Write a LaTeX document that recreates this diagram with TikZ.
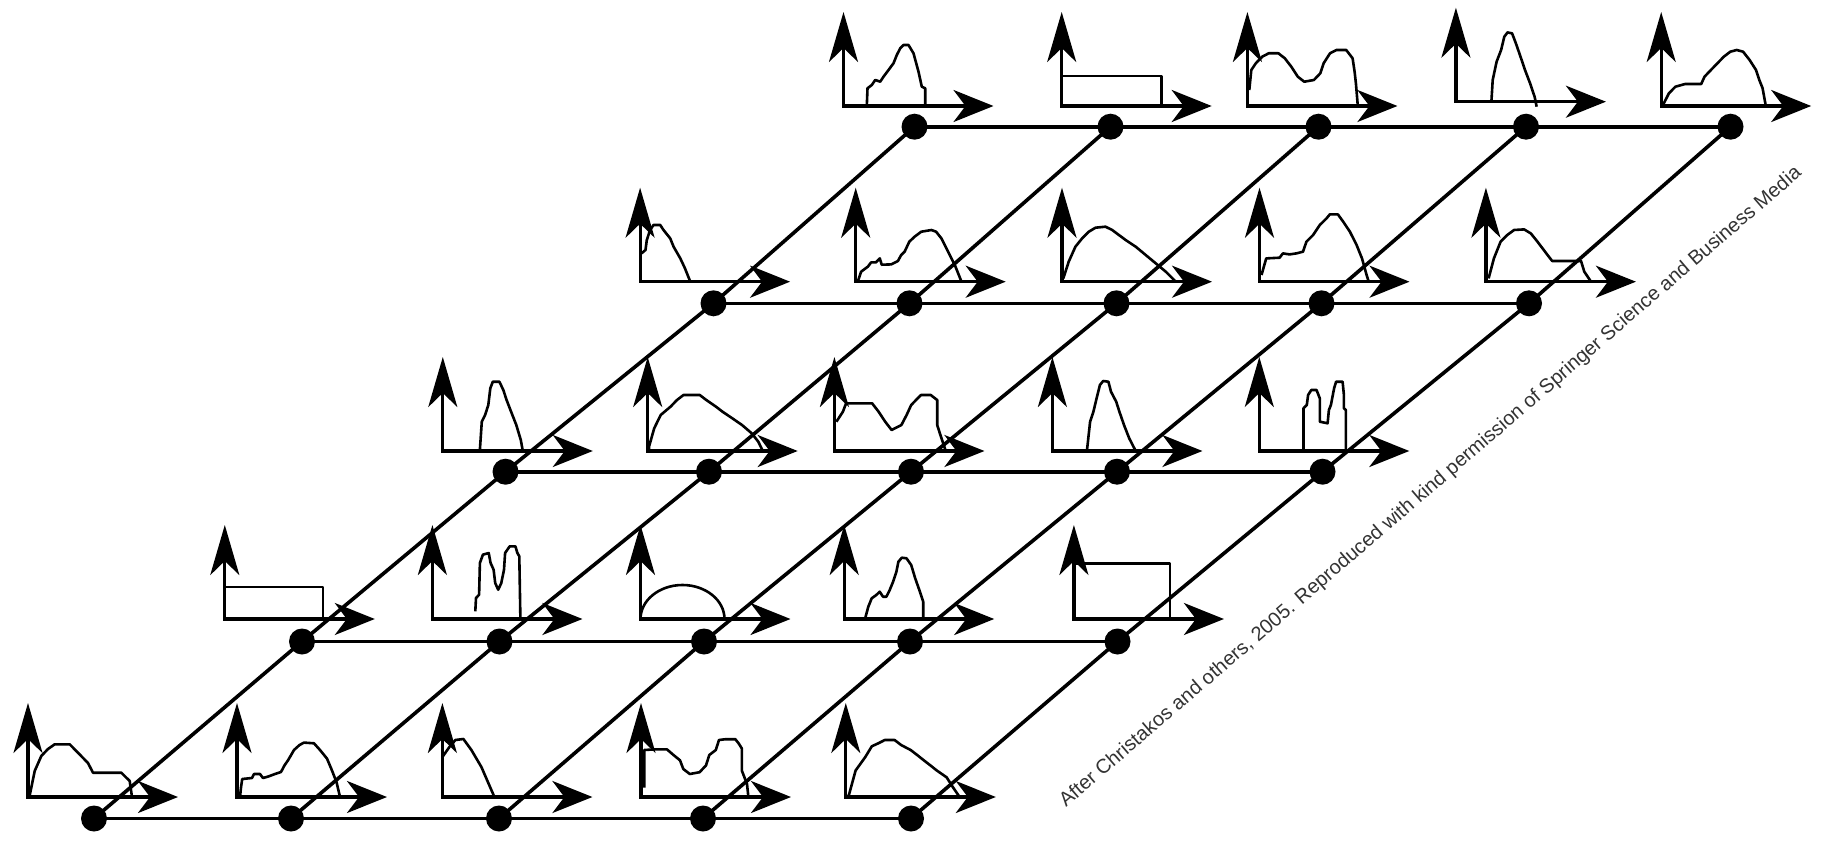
\documentclass[tikz,border=0pt]{standalone}
\usepackage{fontspec}
\setmainfont{Liberation Sans}
\usetikzlibrary{arrows.meta}
\tikzset{
  lattice/.style={line width=3.6pt},
  site/.style={circle, fill=black, inner sep=0pt, minimum size=26pt},
  axes/.style={line width=3.2pt, line join=miter,
    {Stealth[length=50pt,width=29pt,inset=14pt]}-{Stealth[length=40pt,width=32pt,inset=12pt]}},
  density/.style={line width=2.6pt, line join=round},
}
% one small density plot: axis corner at (#1,#2), curve path #3 in local units (y up)
\newcommand{\densityplot}[3]{%
  \begin{scope}[shift={(#1,#2)}, yscale=-1]
    \draw[axes] (0,94) -- (0,0) -- (150,0);
    \draw[density] #3;
  \end{scope}}
\begin{document}
\begin{tikzpicture}[x=1pt,y=-1pt]
\fill[white] (0,0) rectangle (1832,843);
\useasboundingbox (0,0) rectangle (1832,843);

% ---- grid sites ----
\node[site] (n-1-1) at (94,818.5) {};
\node[site] (n-1-2) at (291,818.5) {};
\node[site] (n-1-3) at (499,818.5) {};
\node[site] (n-1-4) at (703,818.5) {};
\node[site] (n-1-5) at (911,818.5) {};
\node[site] (n-2-1) at (302,641.5) {};
\node[site] (n-2-2) at (499.5,641.5) {};
\node[site] (n-2-3) at (704,641.5) {};
\node[site] (n-2-4) at (910,641.5) {};
\node[site] (n-2-5) at (1117.5,641.5) {};
\node[site] (n-3-1) at (505.5,471.7) {};
\node[site] (n-3-2) at (709,471.7) {};
\node[site] (n-3-3) at (911,471.7) {};
\node[site] (n-3-4) at (1117,471.7) {};
\node[site] (n-3-5) at (1322.5,471.7) {};
\node[site] (n-4-1) at (713.5,303.3) {};
\node[site] (n-4-2) at (909.5,303.3) {};
\node[site] (n-4-3) at (1116.5,303.3) {};
\node[site] (n-4-4) at (1321.5,303.3) {};
\node[site] (n-4-5) at (1529,303.3) {};
\node[site] (n-5-1) at (914.5,126.7) {};
\node[site] (n-5-2) at (1110.5,126.7) {};
\node[site] (n-5-3) at (1318.5,126.7) {};
\node[site] (n-5-4) at (1526,126.7) {};
\node[site] (n-5-5) at (1730.5,126.7) {};

\foreach \r in {1,...,5}{
  \draw[lattice] (n-\r-1.center) -- (n-\r-2.center) -- (n-\r-3.center) -- (n-\r-4.center) -- (n-\r-5.center);
  \draw[lattice] (n-1-\r.center) -- (n-2-\r.center) -- (n-3-\r.center) -- (n-4-\r.center) -- (n-5-\r.center);
}

% ---- row 1 ----
\densityplot{28}{797}{plot coordinates {(1.5,0) (2,3) (6.7,26) (13.3,41) (20,48) (26.7,52.7) (41.7,52.7) (48.3,46) (60,34) (65,24.3) (93.3,24.3) (101.7,16) (104,0)}}
\densityplot{237}{797}{plot coordinates {(3,0) (4,9.5) (5.2,18) (15,19) (17,23) (23,23) (26,19) (31,20.4) (38,23) (44,25) (47.5,31.6) (51,36.7) (54,41.8) (57,47) (62.5,52) (67,54.4) (77,53.7) (83,47) (90,38.4) (95,26.5) (99.6,14.6) (103,0)}}
\densityplot{442.4}{797}{plot coordinates {(0,40) (7,50) (13,57) (21,58) (29,47) (39,30) (52,0)}}
\densityplot{641}{797}{plot coordinates {(3.3,9.5) (3.3,47) (13,47.6) (26,47.6) (32.5,42) (39,36.7) (42.3,28) (48.8,23) (58.6,24.8) (65,31.6) (68.3,42) (74.8,47) (78,57) (84.6,57.8) (94.3,57.8) (97.6,53.7) (100.8,48.6) (100.8,26.5) (106,13) (107.4,0)}}
\densityplot{845.8}{797}{plot coordinates {(2,0) (3.3,2.7) (9.8,26.5) (19.5,40) (26,50.7) (32.5,53.7) (39,57) (48.8,57) (55.3,52) (65,46.9) (71.6,41.8) (78,36.7) (84.6,31.6) (91,26.5) (100.8,19.7) (107.3,9.5) (113.8,0)}}

% ---- row 2 ----
\densityplot{224.8}{619}{(0,32) -- (98,32) -- (98,0)}
\densityplot{432.4}{619}{plot coordinates {(42.9,7.7) (43.6,21) (46.7,24.3) (47.5,56) (50.5,64.3) (56.3,66) (58.2,56) (61.2,49.3) (62.8,36) (65.8,29.3) (68.9,36) (71.6,49.3) (72.7,66) (77.3,72.7) (83,72.7) (85,66) (86.9,62.7) (88,0)}}
\densityplot{640.5}{619}{(0,0) arc[start angle=180, end angle=0, x radius=42, y radius=34]}
\densityplot{844.2}{619}{plot coordinates {(20.8,0) (24.1,12.3) (27.5,20.7) (32.1,24) (35.5,27.3) (38.8,22.3) (42.2,22.3) (45.5,29) (48.9,37.3) (52.2,47.3) (54.2,57.3) (57.6,61.3) (62.3,60.7) (67,54) (71,40.7) (75.7,27.3) (79,17.3) (79,0)}}
\densityplot{1073.9}{619}{(0,55.7) -- (96,55.7) -- (96,0)}

% ---- row 3 ----
\densityplot{442.8}{451}{plot coordinates {(37,0) (39,29.3) (42.3,36) (45.5,46) (47.5,62.7) (50,69.3) (56.6,69.3) (60.5,61) (63.8,51) (68.3,39.3) (73.5,26) (78,11) (80,0)}}
\densityplot{647.7}{451}{plot coordinates {(1.3,0) (1.3,4.3) (6.5,22.7) (13,36) (22.8,44.3) (29.3,51) (35.8,56) (52,56) (58.6,51) (68.3,44.3) (74.8,39.3) (84.6,32.7) (94.3,26) (104,17.7) (110.6,9.3) (115.1,0)}}
\densityplot{834.4}{451}{plot coordinates {(2,29.3) (8.5,39.3) (11.7,47.7) (37.7,47.7) (44.2,39.3) (50.8,29.3) (57.2,21) (67,26) (72.2,36) (76.8,46) (83.3,52.7) (86.6,56) (96.3,56) (102.8,51) (102.8,26) (106,16) (111.3,0)}}
\densityplot{1052.4}{451}{plot coordinates {(34.5,0) (37.7,29.3) (41,39.3) (44.2,52.7) (47.5,66) (50.8,70) (56,69.3) (58.6,59.3) (63.8,49.3) (67,39.3) (71.6,26) (76.8,12.7) (83.3,0)}}
\densityplot{1259.3}{451}{plot coordinates {(44.2,0) (44.2,42.7) (47.5,46) (48.8,56) (52,61) (57.2,61) (60.5,52.7) (60.5,29.3) (68.3,27.7) (69.6,41) (71.6,46) (74.8,62.7) (76.8,69.3) (83.3,69.3) (84.6,56) (84.6,42.7) (86.5,41) (86.5,0)}}

% ---- row 4 ----
\densityplot{640.1}{281.7}{plot coordinates {(1.3,28.3) (5.4,31.7) (6.7,41.7) (10,51.7) (13.4,56.7) (20.1,56.7) (23.4,51.7) (30.1,43.3) (33.5,35) (40.2,23.3) (44.9,13.3) (50.2,0)}}
\densityplot{855.7}{281.7}{plot coordinates {(2,0) (5.4,10) (12.1,15) (15.4,19.3) (20.1,19.3) (24.1,23.3) (26,17) (35.5,17.3) (42.2,20.7) (45.5,26.7) (48.9,30) (53.6,40) (58.9,45) (65.6,50) (75.7,51.7) (80.4,50) (85.7,43.3) (92.4,30) (99.1,16.7) (105.8,0)}}
\densityplot{1062}{281.7}{plot coordinates {(1.3,3.3) (6.7,20) (13.4,35) (20.1,43.3) (26.8,50) (33.5,54) (43.5,55) (50.2,51.7) (56.9,46.7) (63.6,41.7) (73.7,35) (83.7,26.7) (93.8,18.3) (103.8,10) (113.8,0)}}
\densityplot{1259.5}{281.7}{plot coordinates {(2,6.7) (6.7,23.3) (20.1,24) (23.4,28.3) (30.1,27.3) (36.8,28.3) (43.5,30) (46.9,40) (53.6,46.7) (60.3,56.7) (67,63.3) (70.3,67.3) (78.4,67.3) (83.7,60) (90.4,50) (97.1,36.7) (102.5,23.3) (107.1,6.7) (109.2,0)}}
\densityplot{1485.9}{281.7}{plot coordinates {(2.7,3.3) (8,23.3) (14.7,40) (21.4,46.7) (28.1,51.7) (38.2,52.3) (44.9,48.3) (51.6,40) (61.6,26.7) (66.3,20.7) (95.1,20.7) (98.4,10) (105.1,0)}}

% ---- row 5 ----
\densityplot{843.5}{106}{plot coordinates {(23.3,0) (24,17.7) (28.3,21) (31.7,26) (36.7,24.3) (40,29.3) (45,36) (50,42.7) (53.3,51) (56.7,57.7) (60,61) (65,61) (70,52.7) (75,34.3) (78.3,19.3) (81.7,17.7) (81.7,0)}}
\densityplot{1061.7}{106}{(0,30) -- (100,30) -- (100,0)}
\densityplot{1247.4}{106}{plot coordinates {(1.9,16) (3.9,36) (8.4,42.7) (14.8,49.3) (21.3,52.7) (31,52.7) (37.4,47.7) (43.9,39.3) (50.4,29.3) (56.8,24.3) (66.5,26) (72.9,32.7) (76.2,42.7) (82.6,52.7) (89,56) (98.8,56) (105.2,47.7) (107.2,34.3) (108.5,22.7) (110.4,0)}}
\densityplot{1455.9}{101.7}{plot coordinates {(35.5,0) (36.8,21.7) (40.7,40) (45.2,51.7) (48.4,65) (51.6,69.3) (56.2,68.3) (60,58.3) (64.6,45) (69.1,31.7) (74.2,18.3) (78.7,5) (80.7,-5)}}
\densityplot{1661.2}{106}{plot coordinates {(1.3,0) (7.7,12.7) (14.2,19.3) (23.9,22) (40,22) (43.3,29.3) (49.7,36) (56.2,42.7) (62.6,49.3) (69.1,54.3) (75.5,56) (81.9,54.3) (88.4,46) (94.8,36) (98.1,26) (101.4,17.7) (104.6,0)}}

% ---- credit line ----
\node[anchor=base west, rotate=40.7, inner sep=0pt, text=black!80,
      font=\fontsize{20}{24}\selectfont] (credit) at (1066,808)
  {After Christakos and others, 2005. Reproduced with kind permission of Springer Science and Business Media};
\end{tikzpicture}
\end{document}
